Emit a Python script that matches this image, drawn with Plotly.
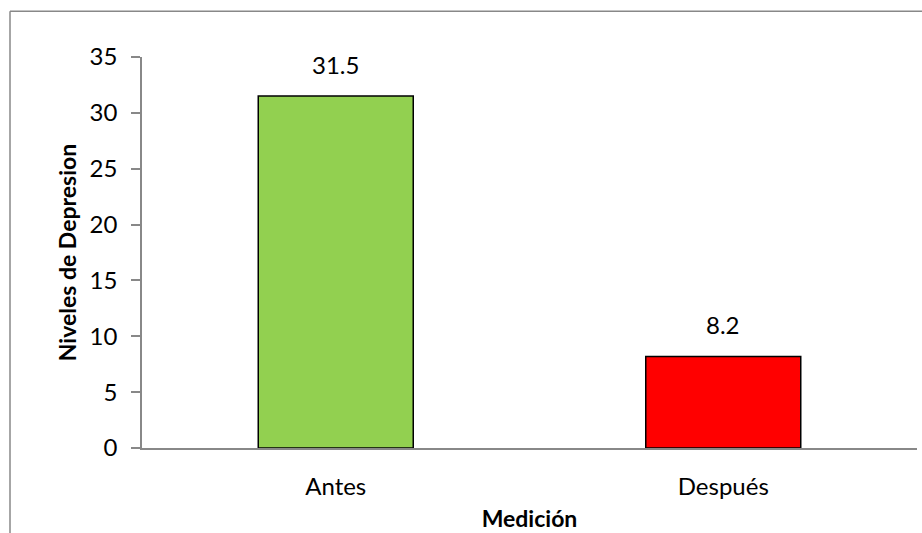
import plotly.graph_objects as go

categories = ["Antes", "Después"]
values = [31.5, 8.2]
bar_colors = ["#92D050", "#FF0000"]
y_ticks = [0, 5, 10, 15, 20, 25, 30, 35]

W, H = 922, 533
L, R, T, B = 142, 5, 57, 83
pw, ph = W - L - R, H - T - B
FONT = "Lato"
FS = 24
TFS = 23

def px_to_paper_x(px):
    return (px - L) / pw

def px_to_paper_y(py):
    return (H - B - py) / ph

fig = go.Figure(
    go.Bar(
        x=categories,
        y=values,
        marker=dict(color=bar_colors, line=dict(color="#000000", width=1.5)),
        cliponaxis=False,
    )
)

# value labels above each bar
for cat, val in zip(categories, values):
    fig.add_annotation(
        x=cat, y=val, text=f"{val}", showarrow=False,
        yanchor="bottom", yshift=15,
        font=dict(family=FONT, size=FS, color="#000000"),
    )

axis_gray = "#888888"

fig.update_layout(
    width=W,
    height=H,
    margin=dict(l=L, r=R, t=T, b=B),
    paper_bgcolor="white",
    plot_bgcolor="white",
    bargap=0.6,
    showlegend=False,
    font=dict(family=FONT, size=FS, color="#000000"),
    xaxis=dict(
        showline=True,
        linecolor=axis_gray,
        linewidth=1.5,
        ticks="",
        showgrid=False,
        ticklabelstandoff=16,
        tickfont=dict(family=FONT, size=FS),
        title=dict(text="<b>Medición</b>", font=dict(family=FONT, size=TFS), standoff=12),
    ),
    yaxis=dict(
        range=[0, 35],
        tickvals=y_ticks,
        showline=True,
        linecolor=axis_gray,
        linewidth=1.5,
        ticks="outside",
        ticklen=9,
        tickcolor=axis_gray,
        tickwidth=1.5,
        showgrid=False,
        zeroline=False,
        ticklabelstandoff=9,
        tickfont=dict(family=FONT, size=FS),
        title=dict(text="<b>Niveles de Depresion</b>", font=dict(family=FONT, size=TFS), standoff=7),
    ),
    shapes=[
        # chart frame (top and left edges)
        dict(type="line", xref="paper", yref="paper",
             x0=px_to_paper_x(10), x1=px_to_paper_x(W + 5),
             y0=px_to_paper_y(11), y1=px_to_paper_y(11),
             line=dict(color=axis_gray, width=1.5)),
        dict(type="line", xref="paper", yref="paper",
             x0=px_to_paper_x(10), x1=px_to_paper_x(10),
             y0=px_to_paper_y(11), y1=px_to_paper_y(H + 5),
             line=dict(color=axis_gray, width=1.5)),
    ],
)

fig.write_html("out.html")
